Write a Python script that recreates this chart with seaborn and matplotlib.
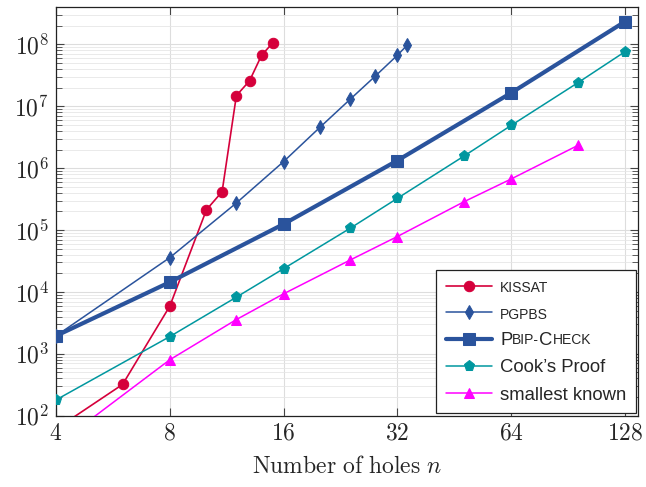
import numpy as np
import seaborn as sns
import matplotlib
matplotlib.use("Agg")
import matplotlib.pyplot as plt
from matplotlib.ticker import FixedLocator, FixedFormatter, LogLocator, FuncFormatter, NullLocator

# series
kissat_n = [4, 6, 8, 10, 11, 12, 13, 14, 15]
kissat_v = [61, 320, 5900, 213000, 417000, 1.49e7, 2.58e7, 6.73e7, 1.07e8]

pgpbs_n = [4, 8, 12, 16, 20, 24, 28, 32, 34]
pgpbs_v = [1950, 35900, 274000, 1.28e6, 4.63e6, 1.3e7, 3.1e7, 6.7e7, 9.8e7]

pbip_n = [4, 8, 16, 32, 64, 128]
pbip_v = [1950, 14400, 125000, 1.33e6, 1.65e7, 2.34e8]

cook_n = [4, 8, 12, 16, 24, 32, 48, 64, 96, 128]
cook_v = [180, 1900, 8240, 23800, 107000, 326000, 1.57e6, 4.92e6, 2.4e7, 7.64e7]

small_n = [4, 8, 12, 16, 24, 32, 48, 64, 96]
small_v = [33, 802, 3580, 9330, 32800, 78700, 287000, 670000, 2.33e6]

x_ticks = [4, 8, 16, 32, 64, 128]
series_names = ["KISSAT", "PGPBS", "Pbip-Check", "Cook’s Proof", "smallest known"]

sns.set_theme(style="ticks")
plt.rcParams["mathtext.fontset"] = "cm"
plt.rcParams["font.family"] = ["Liberation Sans", "DejaVu Sans"]

fig = plt.figure(figsize=(6.46, 4.87), dpi=100)
ax = fig.add_axes([0.0867, 0.1464, 0.9014, 0.8398])

styles = [
    dict(color="#d5003b", marker="o", lw=1.2, ms=7.5),
    dict(color="#2a539c", marker="d", lw=1.1, ms=7.5),
    dict(color="#2a539c", marker="s", lw=3.0, ms=8.5),
    dict(color="#00979f", marker="p", lw=1.1, ms=8),
    dict(color="#ff00ff", marker="^", lw=1.1, ms=7.5),
]
data = [(kissat_n, kissat_v), (pgpbs_n, pgpbs_v), (pbip_n, pbip_v),
        (cook_n, cook_v), (small_n, small_v)]

for (n, v), name, st in zip(data, series_names, styles):
    sns.lineplot(x=n, y=v, ax=ax, color=st["color"], marker=st["marker"],
                 lw=st["lw"], ms=st["ms"], mec=st["color"], mfc=st["color"],
                 label=name, legend=False, zorder=3)

ax.set_xscale("log", base=2)
ax.set_yscale("log")
ax.set_xlim(4, 138.8)
ax.set_ylim(1e2, 4.07e8)

ax.xaxis.set_major_locator(FixedLocator(x_ticks))
ax.xaxis.set_major_formatter(FixedFormatter([f"${t}$" for t in x_ticks]))
ax.xaxis.set_minor_locator(NullLocator())
ax.yaxis.set_major_locator(LogLocator(base=10, numticks=20))
ax.yaxis.set_minor_locator(LogLocator(base=10, subs=np.arange(2, 10), numticks=20))
ax.yaxis.set_major_formatter(FuncFormatter(lambda v, p: f"$10^{{{int(round(np.log10(v)))}}}$"))

ax.tick_params(which="both", direction="in", top=True, right=True, color="#444444",
               labelsize=17)
ax.tick_params(which="major", length=6, width=0.8, pad=5)
ax.tick_params(which="minor", length=4, width=0.6)
for s in ax.spines.values():
    s.set_color("#222222")
    s.set_linewidth(0.9)

ax.set_axisbelow(True)
ax.grid(which="major", color="#dddddd", lw=0.8)
ax.grid(which="minor", axis="y", color="#e6e6e6", lw=0.6)

ax.set_xlabel(r"$\mathrm{Number\ of\ holes}\ n$", fontsize=17, labelpad=8)

handles = ax.get_lines()[:5]
leg_labels = ["KISSAT", "PGPBS", "P", "Cook’s Proof", "smallest known"]
leg = ax.legend(handles, leg_labels, loc="lower right", fontsize=13.3,
                frameon=True, fancybox=False, framealpha=1, edgecolor="#222222",
                borderaxespad=0.15, handlelength=2.5, handletextpad=0.45,
                labelspacing=0.56, borderpad=0.5)
leg.get_frame().set_linewidth(0.9)
leg.set_zorder(5)
small_size = 10
texts = leg.get_texts()
texts[0].set_fontsize(small_size)
texts[1].set_fontsize(small_size)

# small caps for Pbip-Check
prev = texts[2]
for piece, big in [("BIP-", False), ("C", True), ("HECK", False)]:
    dy = -1.5 if big else 1.5
    prev = ax.annotate(piece, xy=(1, 0), xycoords=prev, xytext=(0, dy),
                       textcoords="offset points", va="bottom", ha="left",
                       fontsize=13.3 if big else small_size, zorder=6)

fig.savefig("out.png", dpi=100)
